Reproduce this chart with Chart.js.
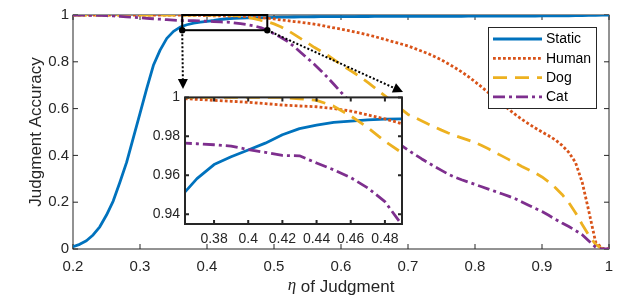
<!DOCTYPE html>
<html>
<head>
<meta charset="utf-8">
<script src="https://cdn.jsdelivr.net/npm/chart.js@4.4.1/dist/chart.umd.min.js"></script>
<style>
  body { margin: 0; background: #fff; }
  #wrap { position: relative; width: 625px; height: 298px; }
  #main { position: absolute; left: 0; top: 0; }
  #inset { position: absolute; }
</style>
</head>
<body>
<div id="wrap">
  <canvas id="main" width="625" height="298"></canvas>
  <canvas id="inset"></canvas>
</div>
<script>
// eta of judgment (x)
const eta = [
  0.20, 0.21, 0.22, 0.23, 0.24, 0.25, 0.26, 0.27, 0.28, 0.29,
  0.30, 0.31, 0.32, 0.33, 0.34, 0.35, 0.36, 0.37, 0.38, 0.39,
  0.40, 0.41, 0.42, 0.43, 0.44, 0.45, 0.46, 0.47, 0.48, 0.49,
  0.50, 0.51, 0.52, 0.53, 0.54, 0.55, 0.56, 0.57, 0.58, 0.59,
  0.60, 0.61, 0.62, 0.63, 0.64, 0.65, 0.66, 0.67, 0.68, 0.69,
  0.70, 0.71, 0.72, 0.73, 0.74, 0.75, 0.76, 0.77, 0.78, 0.79,
  0.80, 0.81, 0.82, 0.83, 0.84, 0.85, 0.86, 0.87, 0.88, 0.89,
  0.90, 0.91, 0.92, 0.93, 0.94, 0.95, 0.96, 0.97, 0.98, 0.99,
  1.00
];

const staticAcc = [
  0.010, 0.020, 0.035, 0.060, 0.095, 0.145, 0.205, 0.285, 0.370, 0.475,
  0.580, 0.685, 0.785, 0.850, 0.900, 0.930, 0.9485, 0.9583, 0.9655, 0.9695,
  0.9730, 0.9765, 0.9808, 0.9840, 0.9858, 0.9872, 0.9878, 0.9885, 0.9888, 0.9890,
  0.9900, 0.9905, 0.9910, 0.9915, 0.9920, 0.9922, 0.9925, 0.9927, 0.9929, 0.9930,
  0.9932, 0.9933, 0.9934, 0.9935, 0.9936, 0.9937, 0.9938, 0.9939, 0.9940, 0.9940,
  0.9941, 0.9942, 0.9942, 0.9943, 0.9944, 0.9945, 0.9945, 0.9946, 0.9947, 0.9948,
  0.9950, 0.9950, 0.9951, 0.9952, 0.9953, 0.9954, 0.9955, 0.9956, 0.9957, 0.9958,
  0.9960, 0.9962, 0.9964, 0.9966, 0.9969, 0.9972, 0.9976, 0.9980, 0.9985, 0.9992,
  1.0000
];

const humanAcc = [
  1.000, 1.000, 1.000, 1.000, 1.000, 1.000, 1.000, 1.000, 1.000, 1.000,
  1.000, 1.000, 1.000, 1.000, 1.000, 1.000, 0.9995, 0.9990, 0.9985, 0.9980,
  0.9975, 0.9968, 0.9961, 0.9956, 0.9952, 0.9943, 0.9930, 0.9910, 0.9890, 0.9865,
  0.983, 0.979, 0.976, 0.972, 0.969, 0.965, 0.961, 0.956, 0.950, 0.945,
  0.940, 0.934, 0.928, 0.922, 0.915, 0.908, 0.900, 0.892, 0.884, 0.876,
  0.868, 0.857, 0.846, 0.835, 0.822, 0.808, 0.792, 0.775, 0.757, 0.737,
  0.715, 0.692, 0.668, 0.645, 0.621, 0.598, 0.575, 0.554, 0.535, 0.517,
  0.500, 0.484, 0.466, 0.443, 0.413, 0.370, 0.285, 0.160, 0.030, 0.003,
  0.000
];

const dogAcc = [
  1.000, 1.000, 1.000, 1.000, 1.000, 1.000, 1.000, 1.000, 1.000, 1.000,
  1.000, 1.000, 1.000, 1.000, 1.000, 1.000, 1.000, 1.000, 1.000, 1.000,
  1.000, 1.000, 1.000, 0.9993, 0.9985, 0.9955, 0.9905, 0.9845, 0.9775, 0.9715,
  0.962, 0.950, 0.935, 0.917, 0.899, 0.881, 0.862, 0.845, 0.828, 0.808,
  0.788, 0.770, 0.752, 0.733, 0.712, 0.690, 0.667, 0.645, 0.621, 0.598,
  0.575, 0.562, 0.548, 0.534, 0.521, 0.508, 0.496, 0.485, 0.475, 0.465,
  0.455, 0.442, 0.428, 0.413, 0.398, 0.383, 0.368, 0.353, 0.339, 0.325,
  0.308, 0.287, 0.262, 0.233, 0.198, 0.155, 0.105, 0.058, 0.020, 0.000,
  0.000
];

const catAcc = [
  1.000, 0.9995, 0.999, 0.9985, 0.998, 0.997, 0.996, 0.994, 0.992, 0.990,
  0.988, 0.986, 0.984, 0.982, 0.980, 0.978, 0.9766, 0.9762, 0.9757, 0.9750,
  0.9732, 0.9718, 0.9702, 0.9700, 0.9663, 0.9628, 0.9588, 0.9535, 0.9465, 0.9345,
  0.920, 0.905, 0.888, 0.865, 0.840, 0.815, 0.790, 0.762, 0.733, 0.702,
  0.670, 0.640, 0.612, 0.585, 0.560, 0.535, 0.510, 0.487, 0.465, 0.443,
  0.423, 0.404, 0.386, 0.369, 0.352, 0.336, 0.320, 0.307, 0.296, 0.286,
  0.276, 0.266, 0.256, 0.246, 0.236, 0.226, 0.215, 0.201, 0.187, 0.173,
  0.160, 0.144, 0.127, 0.111, 0.096, 0.079, 0.061, 0.034, 0.008, 0.000,
  0.000
];

const seriesNames = ['Static', 'Human', 'Dog', 'Cat'];

const xTicks = [0.2, 0.3, 0.4, 0.5, 0.6, 0.7, 0.8, 0.9, 1];
const xTickLabels = ['0.2', '0.3', '0.4', '0.5', '0.6', '0.7', '0.8', '0.9', '1'];
const yTicks = [0, 0.2, 0.4, 0.6, 0.8, 1];
const yTickLabels = ['0', '0.2', '0.4', '0.6', '0.8', '1'];

const insetXTicks = [0.38, 0.40, 0.42, 0.44, 0.46, 0.48];
const insetXTickLabels = ['0.38', '0.4', '0.42', '0.44', '0.46', '0.48'];
const insetYTicks = [0.94, 0.96, 0.98, 1];
const insetYTickLabels = ['0.94', '0.96', '0.98', '1'];

// zoomed window (data units), shared by the rectangle and the inset axes
const zoomX = [0.363, 0.49];
const zoomY = [0.935, 1];

// where the inset's plot box sits on the page (px)
const INSET = { left: 185, top: 92, right: 402, bottom: 224 };
const INSET_CANVAS = { left: 140, top: 84, width: 270, height: 166 };

const SANS = '"Liberation Sans", Arial, Helvetica, sans-serif';
const AXIS_COLOR = '#262626';
const LINE_W = 2.8;

const styles = [
  { color: '#0072BD', dash: [] },
  { color: '#D95319', dash: [2.8, 2.2] },
  { color: '#EDB120', dash: [14, 8] },
  { color: '#7E2F8E', dash: [12, 4, 3, 4] }
];

function makeSets() {
  const all = [staticAcc, humanAcc, dogAcc, catAcc];
  return all.map((vals, i) => ({
    label: seriesNames[i],
    data: eta.map((x, j) => ({ x: x, y: vals[j] })),
    borderColor: styles[i].color,
    borderDash: styles[i].dash,
    borderWidth: LINE_W,
    borderCapStyle: 'butt',
    borderJoinStyle: 'round',
    pointRadius: 0,
    tension: 0,
    fill: false,
    order: 4 - i
  }));
}

function drawBox(chart, xt, yt, color, width, len) {
  const { ctx, chartArea: a, scales: { x, y } } = chart;
  ctx.save();
  ctx.strokeStyle = color;
  ctx.lineWidth = width;
  ctx.beginPath();
  xt.forEach(v => {
    const px = x.getPixelForValue(v);
    ctx.moveTo(px, a.bottom); ctx.lineTo(px, a.bottom - len);
    ctx.moveTo(px, a.top); ctx.lineTo(px, a.top + len);
  });
  yt.forEach(v => {
    const py = y.getPixelForValue(v);
    ctx.moveTo(a.left, py); ctx.lineTo(a.left + len, py);
    ctx.moveTo(a.right, py); ctx.lineTo(a.right - len, py);
  });
  ctx.stroke();
  ctx.strokeRect(a.left, a.top, a.width, a.height);
  ctx.restore();
}

function arrow(ctx, x0, y0, x1, y1) {
  const ang = Math.atan2(y1 - y0, x1 - x0);
  const head = 10, half = 5;
  const bx = x1 - head * Math.cos(ang), by = y1 - head * Math.sin(ang);
  ctx.save();
  ctx.strokeStyle = '#000';
  ctx.fillStyle = '#000';
  ctx.lineWidth = 2;
  ctx.setLineDash([2, 2]);
  ctx.beginPath();
  ctx.moveTo(x0, y0); ctx.lineTo(bx, by);
  ctx.stroke();
  ctx.setLineDash([]);
  ctx.beginPath();
  ctx.arc(x0, y0, 3.2, 0, Math.PI * 2);
  ctx.fill();
  ctx.beginPath();
  ctx.moveTo(x1, y1);
  ctx.lineTo(bx + half * Math.sin(ang), by - half * Math.cos(ang));
  ctx.lineTo(bx - half * Math.sin(ang), by + half * Math.cos(ang));
  ctx.closePath();
  ctx.fill();
  ctx.restore();
}

const mainDecor = {
  id: 'mainDecor',
  beforeDatasetsDraw(chart) {
    drawBox(chart, xTicks, yTicks, AXIS_COLOR, 1, 5);
  },
  afterDatasetsDraw(chart) {
    const { ctx, chartArea: a, scales: { x, y } } = chart;

    // zoom rectangle
    const rx0 = x.getPixelForValue(zoomX[0]), rx1 = x.getPixelForValue(zoomX[1]);
    const ry0 = y.getPixelForValue(zoomY[1]), ry1 = y.getPixelForValue(zoomY[0]);
    ctx.save();
    ctx.strokeStyle = '#000';
    ctx.lineWidth = 2;
    ctx.strokeRect(rx0, ry0, rx1 - rx0, ry1 - ry0);
    ctx.restore();

    arrow(ctx, rx0, ry1, INSET.left - 2, INSET.top - 3);
    arrow(ctx, rx1, ry1, INSET.right + 1, INSET.top);

    // legend
    const lx = 488, ly = 27, lw = 108, lh = 81;
    ctx.save();
    ctx.fillStyle = '#fff';
    ctx.fillRect(lx, ly, lw, lh);
    ctx.strokeStyle = AXIS_COLOR;
    ctx.lineWidth = 1;
    ctx.strokeRect(lx + 0.5, ly + 0.5, lw, lh);
    ctx.font = '14px ' + SANS;
    ctx.textBaseline = 'middle';
    ctx.textAlign = 'left';
    seriesNames.forEach((name, i) => {
      const yy = 39 + i * 19.3;
      ctx.strokeStyle = styles[i].color;
      ctx.lineWidth = LINE_W;
      ctx.lineCap = 'butt';
      ctx.setLineDash(styles[i].dash);
      ctx.beginPath();
      ctx.moveTo(lx + 5, yy); ctx.lineTo(lx + 54, yy);
      ctx.stroke();
      ctx.setLineDash([]);
      ctx.fillStyle = '#000';
      ctx.fillText(name, lx + 58, yy + 0.5);
    });
    ctx.restore();

    // x axis title with italic eta
    ctx.save();
    ctx.fillStyle = AXIS_COLOR;
    ctx.textBaseline = 'middle';
    const etaFont = 'italic 17px "Liberation Serif", "DejaVu Serif", serif';
    const restFont = '17px ' + SANS;
    const rest = ' of Judgment';
    ctx.font = etaFont;
    const w1 = ctx.measureText('η').width;
    ctx.font = restFont;
    const w2 = ctx.measureText(rest).width;
    const cx = (a.left + a.right) / 2;
    const tx = cx - (w1 + w2) / 2;
    ctx.font = etaFont;
    ctx.fillText('η', tx, 286);
    ctx.font = restFont;
    ctx.fillText(rest, tx + w1, 287);
    ctx.restore();
  }
};

const insetDecor = {
  id: 'insetDecor',
  beforeDatasetsDraw(chart) {
    const { ctx, chartArea: a } = chart;
    ctx.save();
    ctx.fillStyle = '#fff';
    ctx.fillRect(a.left, a.top, a.width, a.height);
    ctx.restore();
  },
  afterDatasetsDraw(chart) {
    drawBox(chart, insetXTicks, insetYTicks, AXIS_COLOR, 2, 4);
  }
};

new Chart(document.getElementById('main'), {
  type: 'line',
  data: { datasets: makeSets() },
  options: {
    responsive: false,
    animation: false,
    events: [],
    layout: { padding: { top: 15, right: 16, left: 0, bottom: 0 } },
    plugins: { legend: { display: false }, tooltip: { enabled: false } },
    scales: {
      x: {
        type: 'linear', min: 0.2, max: 1,
        grid: { display: false, drawTicks: false }, border: { display: false },
        afterBuildTicks: s => { s.ticks = xTicks.map(v => ({ value: v })); },
        afterFit: s => { s.height = 49; },
        ticks: {
          autoSkip: false, maxRotation: 0, padding: 9, color: AXIS_COLOR,
          font: { family: SANS, size: 15 },
          callback: (v, i) => xTickLabels[i]
        }
      },
      y: {
        type: 'linear', min: 0, max: 1,
        grid: { display: false, drawTicks: false }, border: { display: false },
        afterBuildTicks: s => { s.ticks = yTicks.map(v => ({ value: v })); },
        afterFit: s => { s.width = 73; },
        ticks: {
          autoSkip: false, padding: 4, color: AXIS_COLOR,
          font: { family: SANS, size: 15 },
          callback: (v, i) => yTickLabels[i]
        },
        title: {
          display: true, text: 'Judgment Accuracy', color: AXIS_COLOR,
          font: { family: SANS, size: 17 },
          padding: { top: 26, bottom: 0 }
        }
      }
    }
  },
  plugins: [mainDecor]
});

const insetCanvas = document.getElementById('inset');
insetCanvas.width = INSET_CANVAS.width;
insetCanvas.height = INSET_CANVAS.height;
insetCanvas.style.left = INSET_CANVAS.left + 'px';
insetCanvas.style.top = INSET_CANVAS.top + 'px';

new Chart(insetCanvas, {
  type: 'line',
  data: { datasets: makeSets() },
  options: {
    responsive: false,
    animation: false,
    events: [],
    layout: {
      padding: {
        top: INSET.top - INSET_CANVAS.top,
        right: INSET_CANVAS.left + INSET_CANVAS.width - INSET.right,
        left: 0, bottom: 0
      }
    },
    plugins: { legend: { display: false }, tooltip: { enabled: false } },
    scales: {
      x: {
        type: 'linear', min: zoomX[0], max: zoomX[1],
        grid: { display: false, drawTicks: false }, border: { display: false },
        afterBuildTicks: s => { s.ticks = insetXTicks.map(v => ({ value: v })); },
        afterFit: s => { s.height = INSET_CANVAS.top + INSET_CANVAS.height - INSET.bottom; },
        ticks: {
          autoSkip: false, maxRotation: 0, padding: 7, color: AXIS_COLOR,
          font: { family: SANS, size: 14 },
          callback: (v, i) => insetXTickLabels[i]
        }
      },
      y: {
        type: 'linear', min: zoomY[0], max: zoomY[1],
        grid: { display: false, drawTicks: false }, border: { display: false },
        afterBuildTicks: s => { s.ticks = insetYTicks.map(v => ({ value: v })); },
        afterFit: s => { s.width = INSET.left - INSET_CANVAS.left; },
        ticks: {
          autoSkip: false, padding: 5, color: AXIS_COLOR,
          font: { family: SANS, size: 14 },
          callback: (v, i) => insetYTickLabels[i]
        }
      }
    }
  },
  plugins: [insetDecor]
});
</script>
</body>
</html>
